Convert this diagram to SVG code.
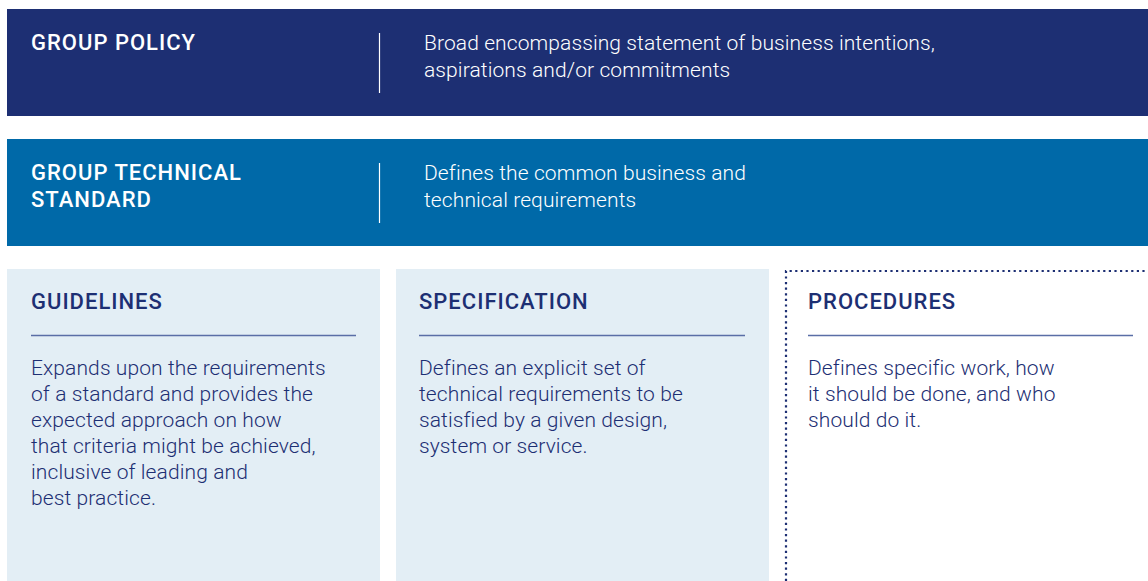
<svg xmlns="http://www.w3.org/2000/svg" width="1148" height="581" viewBox="0 0 1148 581">
  <style>
    .head { font-family: Roboto, "Liberation Sans", sans-serif; font-weight: 500; font-size: 22px; letter-spacing: 1px; }
    .body { font-family: Roboto, "Liberation Sans", Arial, sans-serif; font-weight: 300; font-size: 21px; letter-spacing: 0.1px; }
    .white { fill: #ffffff; }
    .navy { fill: #1d2f73; }
    .sep { stroke: #ffffff; stroke-width: 1.2; }
    .rule { stroke: #5a6ea6; stroke-width: 1.5; }
    .card { fill: #e3eef5; }
  </style>

  <rect width="1148" height="581" fill="#ffffff"/>

  <g id="group-policy">
    <rect x="7" y="9" width="1141" height="107" fill="#1d2f73"/>
    <text class="head white" x="31" y="50">GROUP POLICY</text>
    <line class="sep" x1="379.5" y1="33" x2="379.5" y2="93"/>
    <text class="body white" x="424" y="50">Broad encompassing statement of business intentions,</text>
    <text class="body white" x="424" y="77">aspirations and/or commitments</text>
  </g>

  <g id="group-technical-standard">
    <rect x="7" y="139" width="1141" height="107" fill="#0069a8"/>
    <text class="head white" x="31" y="180">GROUP TECHNICAL</text>
    <text class="head white" x="31" y="207">STANDARD</text>
    <line class="sep" x1="379.5" y1="163" x2="379.5" y2="223"/>
    <text class="body white" x="424" y="180">Defines the common business and</text>
    <text class="body white" x="424" y="207">technical requirements</text>
  </g>

  <g id="guidelines">
    <rect class="card" x="7" y="269" width="373" height="312"/>
    <text class="head navy" x="31" y="309">GUIDELINES</text>
    <line class="rule" x1="31" y1="335.5" x2="356" y2="335.5"/>
    <text class="body navy" x="31" y="375">Expands upon the requirements</text>
    <text class="body navy" x="31" y="401">of a standard and provides the</text>
    <text class="body navy" x="31" y="427">expected approach on how</text>
    <text class="body navy" x="31" y="453">that criteria might be achieved,</text>
    <text class="body navy" x="31" y="479">inclusive of leading and</text>
    <text class="body navy" x="31" y="505">best practice.</text>
  </g>

  <g id="specification">
    <rect class="card" x="396" y="269" width="373" height="312"/>
    <text class="head navy" x="419" y="309">SPECIFICATION</text>
    <line class="rule" x1="419" y1="335.5" x2="745" y2="335.5"/>
    <text class="body navy" x="419" y="375">Defines an explicit set of</text>
    <text class="body navy" x="419" y="401">technical requirements to be</text>
    <text class="body navy" x="419" y="427">satisfied by a given design,</text>
    <text class="body navy" x="419" y="453">system or service.</text>
  </g>

  <g id="procedures">
    <path d="M786 581 V271 H1148" fill="none" stroke="#1d2f73" stroke-width="2.2" stroke-dasharray="2.2 3.4"/>
    <text class="head navy" x="808" y="309">PROCEDURES</text>
    <line class="rule" x1="808" y1="335.5" x2="1133" y2="335.5"/>
    <text class="body navy" x="808" y="375">Defines specific work, how</text>
    <text class="body navy" x="808" y="401">it should be done, and who</text>
    <text class="body navy" x="808" y="427">should do it.</text>
  </g>
</svg>
